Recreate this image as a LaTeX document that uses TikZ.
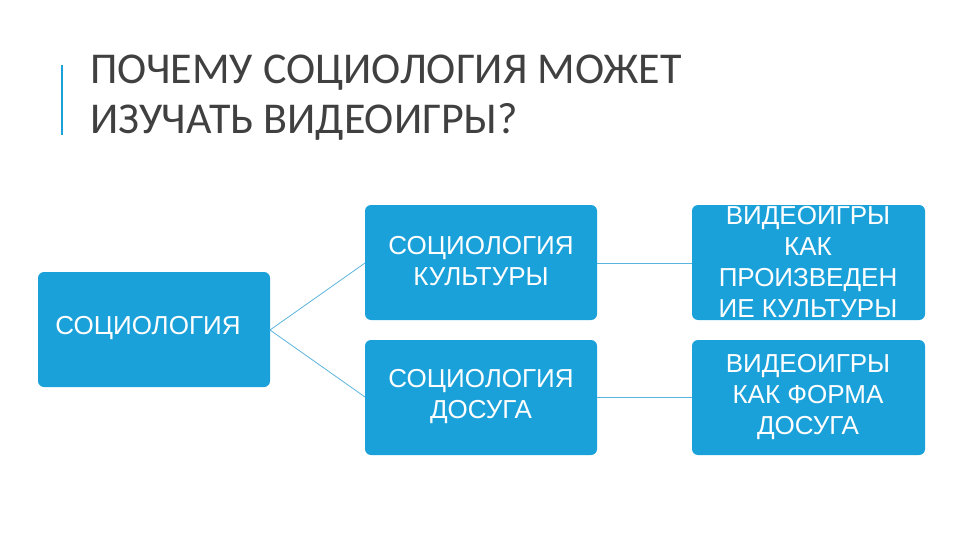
\documentclass[tikz,border=0pt]{standalone}
\usepackage{fontspec}
\setmainfont{Liberation Sans}
\newfontfamily\titlefont{Carlito}
\definecolor{boxblue}{HTML}{1BA1DA}
\definecolor{linecol}{HTML}{5AB4DC}
\begin{document}
\begin{tikzpicture}[x=1pt,y=-1pt,
  bx/.style={fill=boxblue,rounded corners=6pt,draw=none},
  bt/.style={text=white,align=center,font=\fontsize{26}{31}\selectfont},
  conn/.style={draw=linecol,line width=0.8pt}]
\useasboundingbox (0,0) rectangle (960,540);
\draw[draw=boxblue,line width=1.5pt] (62,65) -- (62,135);
\node[anchor=north west,align=left,inner sep=0,text=black!75,font=\titlefont\fontsize{44}{50}\selectfont] (title) at (90,55) {ПОЧЕМУ СОЦИОЛОГИЯ МОЖЕТ\\ИЗУЧАТЬ ВИДЕОИГРЫ?};
\path[bx] (38,272) rectangle (270,387);
\path[bx] (365,205) rectangle (597,320);
\path[bx] (365,340) rectangle (597,455);
\path[bx] (692,205) rectangle (925,320);
\path[bx] (692,340) rectangle (925,455);
\coordinate (a) at (270,330);
\coordinate (b1) at (365,263); \coordinate (b2) at (365,397);
\coordinate (c1) at (597,263); \coordinate (c2) at (597,397);
\coordinate (d1) at (692,263); \coordinate (d2) at (692,397);
\node[bt] (soc) at (148,328) {СОЦИОЛОГИЯ};
\node[bt] (cult) at (481,261) {СОЦИОЛОГИЯ\\КУЛЬТУРЫ};
\node[bt] (dos) at (481,397) {СОЦИОЛОГИЯ\\ДОСУГА};
\begin{scope}
\clip (692,205) rectangle (925,320);
\node[bt] (vc) at (808,262) {ВИДЕОИГРЫ\\КАК\\ПРОИЗВЕДЕН\\ИЕ КУЛЬТУРЫ};
\end{scope}
\node[bt] (vd) at (808,397) {ВИДЕОИГРЫ\\КАК ФОРМА\\ДОСУГА};
\draw[conn] (b1) -- (a) -- (b2);
\draw[conn] (c1) -- (d1);
\draw[conn] (c2) -- (d2);
\end{tikzpicture}
\end{document}
